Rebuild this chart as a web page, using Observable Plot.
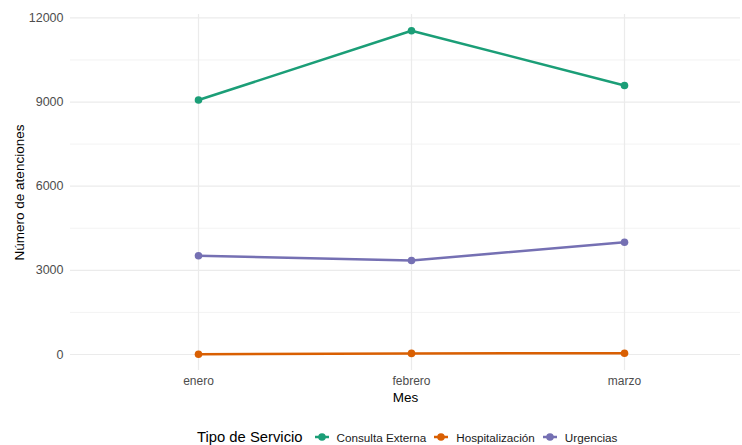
<!DOCTYPE html>
<html>
<head>
<meta charset="utf-8">
<script src="https://cdn.jsdelivr.net/npm/d3@7"></script>
<script src="https://cdn.jsdelivr.net/npm/@observablehq/plot@0.6"></script>
<style>
  body { margin: 0; background: #fff; font-family: "Liberation Sans", Arial, sans-serif; }
  #chart { width: 742px; }
  .legend { display: flex; justify-content: flex-start; align-items: center; margin-top: 17px; height: 16px; color: #000; padding-left: 197px; }
  .legend .title { font-size: 14.8px; margin-right: 12px; }
  .legend .item { display: flex; align-items: center; font-size: 11.7px; margin-right: 8px; color: #1a1a1a; }
  .legend svg { margin-right: 8px; }
</style>
</head>
<body>
<div id="chart"></div>
<script>
const meses = ["enero", "febrero", "marzo"];
const tipos = ["Consulta Externa", "Hospitalización", "Urgencias"];
const consultaExterna = [9070, 11540, 9590];
const hospitalizacion = [10, 40, 45];
const urgencias = [3520, 3350, 4000];
const colores = ["#1B9E77", "#D95F02", "#7570B3"];
const majorTicks = [0, 3000, 6000, 9000, 12000];
const minorTicks = [1500, 4500, 7500, 10500];

const series = [consultaExterna, hospitalizacion, urgencias];
const data = [];
tipos.forEach((t, i) => meses.forEach((m, j) => data.push({tipo: t, mes: m, valor: series[i][j]})));

const plot = Plot.plot({
  width: 742,
  height: 412,
  marginLeft: 70,
  marginRight: 2,
  marginTop: 14,
  marginBottom: 42,
  style: {fontFamily: "Liberation Sans, Arial, sans-serif", fontSize: "12px", background: "#fff"},
  x: {type: "point", domain: meses, padding: 0.6, range: [70, 752]},
  y: {domain: [-570, 12120]},
  color: {domain: tipos, range: colores},
  marks: [
    Plot.ruleY(minorTicks, {stroke: "#ebebeb", strokeWidth: 0.6}),
    Plot.ruleY(majorTicks, {stroke: "#ebebeb", strokeWidth: 1.2}),
    Plot.ruleX(meses, {stroke: "#ebebeb", strokeWidth: 1.2}),
    Plot.axisY(majorTicks, {tickSize: 0, tickPadding: 7, tickFormat: d3.format("d"), fill: "#4d4d4d", color: "#4d4d4d", fontSize: 12.5,
      label: "Número de atenciones", labelAnchor: "center", labelArrow: "none", labelOffset: 56}),
    Plot.axisX({tickSize: 0, tickPadding: 6, fill: "#4d4d4d", color: "#4d4d4d", fontSize: 12,
      label: "Mes", labelAnchor: "center", labelArrow: "none", labelOffset: 31}),
    Plot.line(data, {x: "mes", y: "valor", stroke: "tipo", z: "tipo", strokeWidth: 2.5}),
    Plot.dot(data, {x: "mes", y: "valor", fill: "tipo", r: 3.8})
  ]
});
plot.querySelectorAll("g[aria-label='y-axis label'] text, g[aria-label='x-axis label'] text").forEach(t => {
  t.setAttribute("fill", "#000");
  t.setAttribute("font-size", "13.5");
});
document.getElementById("chart").appendChild(plot);

const legend = document.createElement("div");
legend.className = "legend";
const title = document.createElement("span");
title.className = "title";
title.textContent = "Tipo de Servicio";
legend.appendChild(title);
tipos.forEach((t, i) => {
  const item = document.createElement("span");
  item.className = "item";
  item.innerHTML = `<svg width="14" height="10"><line x1="0" x2="14" y1="5" y2="5" stroke="${colores[i]}" stroke-width="2.5"/><circle cx="7" cy="5" r="3.8" fill="${colores[i]}"/></svg>`;
  const s = document.createElement("span");
  s.textContent = t;
  item.appendChild(s);
  legend.appendChild(item);
});
document.getElementById("chart").appendChild(legend);
</script>
</body>
</html>
